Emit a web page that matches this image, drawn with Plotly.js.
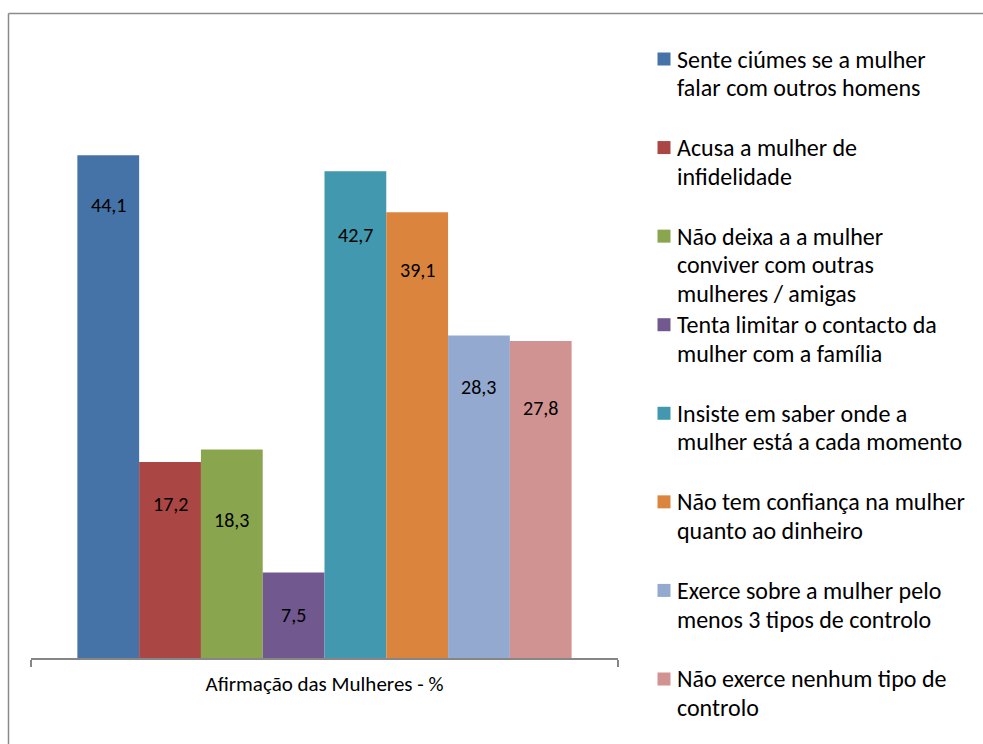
<!DOCTYPE html>
<html>
<head>
<meta charset="utf-8">
<script src="https://cdn.plot.ly/plotly-3.0.1.min.js"></script>
<style>html,body{margin:0;padding:0;background:#fff;}#chart{width:983px;height:744px;}</style>
</head>
<body>
<div id="chart"></div>
<script>
// ---- data ----
const categories = ['Afirmação das Mulheres - %'];
const seriesNames = [
  'Sente ciúmes se a mulher<br>falar com outros homens',
  'Acusa a mulher de<br>infidelidade',
  'Não deixa a a mulher<br>conviver com outras<br>mulheres / amigas',
  'Tenta limitar o contacto da<br>mulher com a família',
  'Insiste em saber onde a<br>mulher está a cada momento',
  'Não tem confiança na mulher<br>quanto ao dinheiro',
  'Exerce sobre a mulher pelo<br>menos 3 tipos de controlo',
  'Não exerce nenhum tipo de<br>controlo'
];
const values = [44.1, 17.2, 18.3, 7.5, 42.7, 39.1, 28.3, 27.8];

// ---- styles ----
const colors = ['#4572A7', '#AA4643', '#89A54E', '#71588F', '#4198AF', '#DB843D', '#93A9CF', '#D19392'];
const labelDrop = [50, 42, 71, 42, 64, 58, 52, 67]; // px below bar top for value labels
const FONT = 'Carlito, Calibri, Lato, sans-serif';

const W = 983, H = 744;
const L = 31, R = 618, T = 88, B = 658;
const px2x = p => (p - L) / (R - L);
const py2y = p => (B - p) / (B - T);
const bargap = 0.158;

const traces = values.map((v, i) => ({
  type: 'bar',
  name: seriesNames[i].replace(/<br>/g, ' '),
  x: [categories[0]],
  y: [v],
  marker: {color: colors[i], line: {width: 0}},
  hoverinfo: 'name+y',
  showlegend: false
}));

const n = values.length;
const annotations = [];
const shapes = [];

// value labels
values.forEach((v, i) => {
  const cx = -0.5 + bargap / 2 + (i + 0.5) * (1 - bargap) / n;
  annotations.push({
    x: cx, y: v, xref: 'x', yref: 'y',
    text: v.toFixed(1).replace('.', ','),
    showarrow: false, yanchor: 'middle', xanchor: 'center',
    yshift: -labelDrop[i],
    font: {family: FONT, size: 20, color: '#000'}
  });
});

// custom legend
const legTop = 59, legStep = 88.57, lineStep = 28.7;
seriesNames.forEach((name, i) => {
  const cy = legTop + i * legStep;
  shapes.push({
    type: 'rect', xref: 'paper', yref: 'paper',
    x0: px2x(657.5), x1: px2x(670.5), y0: py2y(cy - 6.5), y1: py2y(cy + 6.5),
    fillcolor: colors[i], line: {width: 0}
  });
  name.split('<br>').forEach((ln, j) => {
    annotations.push({
      xref: 'paper', yref: 'paper',
      x: px2x(675), y: py2y(cy + j * lineStep),
      text: ln, showarrow: false, xanchor: 'left', yanchor: 'middle',
      font: {family: FONT, size: 24, color: '#000'}
    });
  });
});

// outer chart border (top and left visible)
shapes.push({type: 'line', xref: 'paper', yref: 'paper', x0: px2x(8.5), x1: px2x(990), y0: py2y(13.5), y1: py2y(13.5), line: {color: '#8a8a8a', width: 1.5}});
shapes.push({type: 'line', xref: 'paper', yref: 'paper', x0: px2x(8.5), x1: px2x(8.5), y0: py2y(13.5), y1: py2y(760), line: {color: '#8a8a8a', width: 1.5}});

const layout = {
  width: W, height: H,
  margin: {l: L, r: W - R, t: T, b: H - B, pad: 0},
  paper_bgcolor: '#fff', plot_bgcolor: '#fff',
  barmode: 'group', bargap: bargap, bargroupgap: 0,
  showlegend: false,
  xaxis: {
    type: 'category',
    showline: true, linecolor: '#868686', linewidth: 1.5,
    ticks: 'outside', tickson: 'boundaries', ticklen: 7, tickcolor: '#868686', tickwidth: 1.5,
    tickfont: {family: FONT, size: 21, color: '#000'},
    ticklabelstandoff: 6,
    showgrid: false, zeroline: false, fixedrange: true
  },
  yaxis: {
    range: [0, 50], visible: false, showgrid: false, zeroline: false, fixedrange: true
  },
  annotations: annotations,
  shapes: shapes
};

Plotly.newPlot('chart', traces, layout, {displayModeBar: false, staticPlot: true});
</script>
</body>
</html>
